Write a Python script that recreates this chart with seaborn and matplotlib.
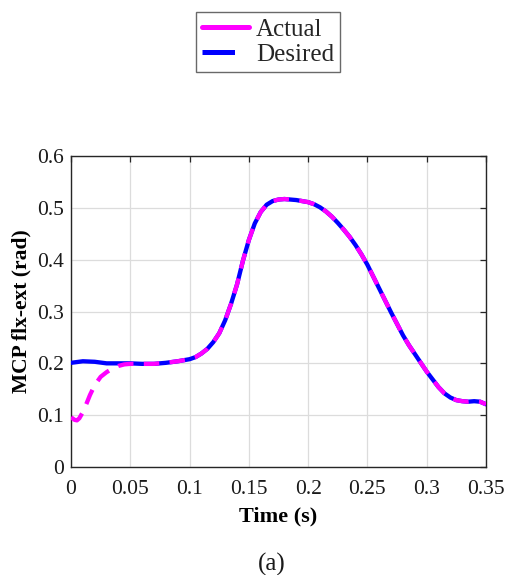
import numpy as np
import pandas as pd
import matplotlib
matplotlib.use('Agg')
import matplotlib.pyplot as plt
import seaborn as sns
from matplotlib.lines import Line2D

# Valeurs
temps = [0.000, 0.010, 0.020, 0.030, 0.040, 0.050, 0.060, 0.070, 0.080, 0.090,
         0.100, 0.105, 0.110, 0.115, 0.120, 0.125, 0.130, 0.135, 0.140, 0.145,
         0.150, 0.155, 0.160, 0.165, 0.170, 0.175, 0.180, 0.185, 0.190, 0.195,
         0.200, 0.205, 0.210, 0.215, 0.220, 0.225, 0.230, 0.235, 0.240, 0.245,
         0.250, 0.255, 0.260, 0.265, 0.270, 0.275, 0.280, 0.285, 0.290, 0.295,
         0.300, 0.305, 0.310, 0.315, 0.320, 0.325, 0.330, 0.335, 0.340, 0.345,
         0.350]
desire = [0.201, 0.204, 0.203, 0.200, 0.200, 0.200, 0.199, 0.199, 0.201, 0.204,
          0.208, 0.212, 0.219, 0.228, 0.241, 0.258, 0.283, 0.315, 0.352, 0.398,
          0.438, 0.470, 0.492, 0.506, 0.513, 0.516, 0.517, 0.516, 0.515, 0.513,
          0.511, 0.507, 0.501, 0.493, 0.483, 0.471, 0.458, 0.444, 0.428, 0.410,
          0.390, 0.367, 0.344, 0.321, 0.298, 0.276, 0.254, 0.235, 0.218, 0.201,
          0.184, 0.169, 0.154, 0.142, 0.134, 0.129, 0.127, 0.126, 0.127, 0.126,
          0.121]

temps_reel = [0.000, 0.003, 0.005, 0.007, 0.010, 0.013, 0.016, 0.020, 0.025, 0.030,
              0.035, 0.040, 0.045, 0.050, 0.060, 0.070, 0.080, 0.090,
              0.100, 0.105, 0.110, 0.115, 0.120, 0.125, 0.130, 0.135, 0.140, 0.145,
              0.150, 0.155, 0.160, 0.165, 0.170, 0.175, 0.180, 0.185, 0.190, 0.195,
              0.200, 0.205, 0.210, 0.215, 0.220, 0.225, 0.230, 0.235, 0.240, 0.245,
              0.250, 0.255, 0.260, 0.265, 0.270, 0.275, 0.280, 0.285, 0.290, 0.295,
              0.300, 0.305, 0.310, 0.315, 0.320, 0.325, 0.330, 0.335, 0.340, 0.345,
              0.350]
reel = [0.096, 0.091, 0.090, 0.094, 0.106, 0.122, 0.139, 0.158, 0.174, 0.183,
        0.190, 0.195, 0.198, 0.199, 0.199, 0.199, 0.201, 0.204,
        0.208, 0.212, 0.219, 0.228, 0.241, 0.258, 0.283, 0.315, 0.352, 0.398,
        0.438, 0.470, 0.492, 0.506, 0.513, 0.516, 0.517, 0.516, 0.515, 0.513,
        0.511, 0.507, 0.501, 0.493, 0.483, 0.471, 0.458, 0.444, 0.428, 0.410,
        0.390, 0.367, 0.344, 0.321, 0.298, 0.276, 0.254, 0.235, 0.218, 0.201,
        0.184, 0.169, 0.154, 0.142, 0.134, 0.129, 0.127, 0.126, 0.127, 0.126,
        0.121]

xticks = [0, 0.05, 0.1, 0.15, 0.2, 0.25, 0.3, 0.35]
xlabels = ['0', '0.05', '0.1', '0.15', '0.2', '0.25', '0.3', '0.35']
yticks = [0, 0.1, 0.2, 0.3, 0.4, 0.5, 0.6]
ylabels = ['0', '0.1', '0.2', '0.3', '0.4', '0.5', '0.6']

# Style
sns.set_theme(style='white')
plt.rcParams['font.family'] = ['Liberation Serif', 'DejaVu Serif']

df_desire = pd.DataFrame({'t': temps, 'v': desire})
df_reel = pd.DataFrame({'t': temps_reel, 'v': reel})

fig = plt.figure(figsize=(5.08, 5.75), dpi=100)
ax = fig.add_axes([0.1398, 0.1878, 0.8169, 0.5409])

sns.lineplot(data=df_desire, x='t', y='v', ax=ax, color='#0000ff',
             linewidth=3.1, sort=False, estimator=None, zorder=3)
sns.lineplot(data=df_reel, x='t', y='v', ax=ax, color='#ff00ff',
             linewidth=3.1, sort=False, estimator=None, zorder=4,
             dashes=False, linestyle=(0, (3.6, 2.4)))

ax.set_xlim(0, 0.35)
ax.set_ylim(0, 0.6)
ax.set_xticks(xticks)
ax.set_xticklabels(xlabels)
ax.set_yticks(yticks)
ax.set_yticklabels(ylabels)
ax.grid(True, color='#dcdcdc', linewidth=0.9)
ax.set_axisbelow(True)
ax.tick_params(direction='in', length=4, width=0.9, colors='#262626',
               top=True, right=True, labelsize=15.5, pad=5)
ax.tick_params(axis='x', pad=9)
for lab in ax.get_xticklabels() + ax.get_yticklabels():
    lab.set_color('#1a1a1a')
for sp in ax.spines.values():
    sp.set_visible(True)
    sp.set_color('#262626')
    sp.set_linewidth(1.0)

ax.set_xlabel('Time (s)', fontsize=16, fontweight='bold', color='black', labelpad=6)
ax.set_ylabel('MCP flx-ext (rad)', fontsize=15.5, fontweight='bold', color='black', labelpad=4)

# Légende
poignees = [Line2D([], [], color='#ff00ff', linewidth=3.6),
            Line2D([], [], color='#0000ff', linewidth=3.6, linestyle=(0, (6.5, 6)))]
leg = fig.legend(poignees, ['Actual', 'Desired'], loc='center',
                 bbox_to_anchor=(0.528, 0.927), fontsize=18, frameon=True,
                 fancybox=False, edgecolor='#444444', handlelength=1.85,
                 handletextpad=0.3, borderpad=0.25, labelspacing=0.1,
                 borderaxespad=0)
leg.get_frame().set_linewidth(1.0)

fig.text(0.535, 0.018, '(a)', ha='center', va='center', fontsize=18, color='#1a1a1a')

fig.savefig('out.png', dpi=100)
plt.close(fig)
